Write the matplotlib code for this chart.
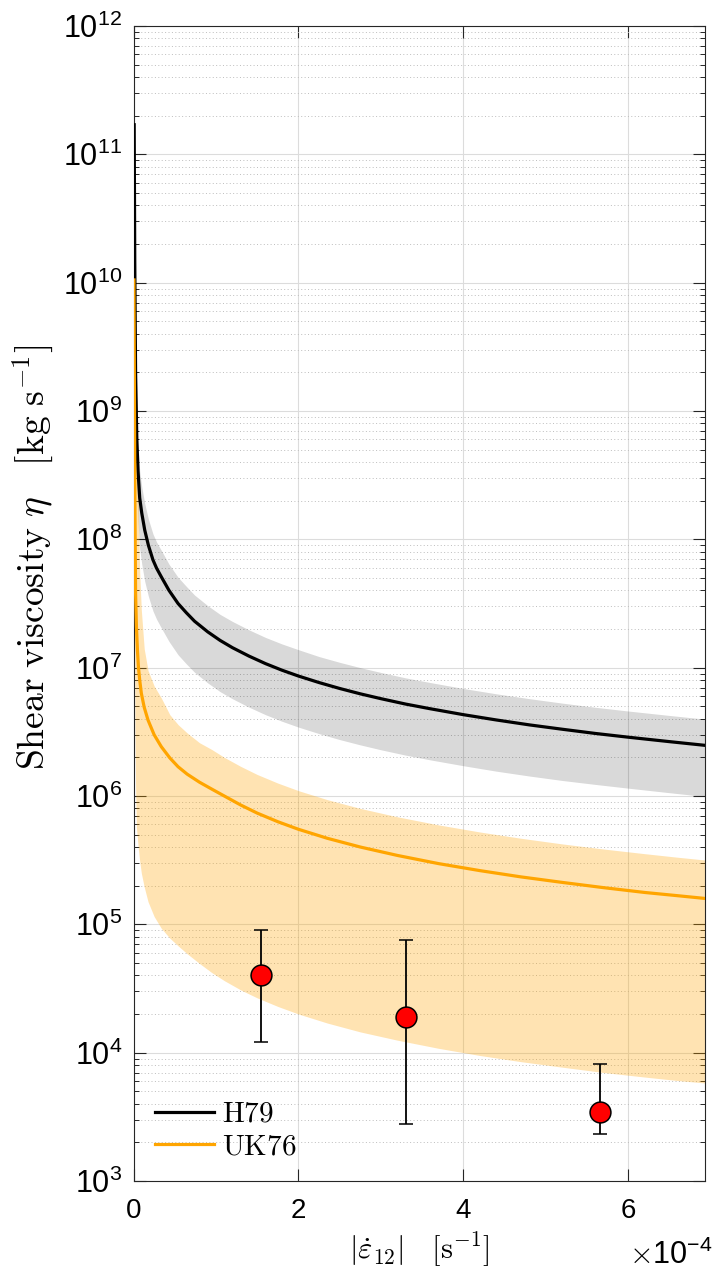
import matplotlib
matplotlib.use('Agg')
import matplotlib.pyplot as plt
from matplotlib.ticker import FixedLocator, NullFormatter

plt.rcParams['font.family'] = ['Liberation Sans', 'DejaVu Sans']
plt.rcParams['mathtext.fontset'] = 'cm'

# ---- data (x in units of 1e-4 s^-1, eta in kg s^-1) ----
x_h79 = [0.008, 0.015, 0.025, 0.04, 0.055, 0.075, 0.1, 0.136, 0.18, 0.236, 0.28, 0.337,
         0.43, 0.54, 0.64, 0.74, 0.9, 1.05, 1.2, 1.4, 1.6, 1.8, 2.0, 2.25, 2.5, 2.75,
         3.0, 3.3, 3.6, 4.0, 4.4, 4.8, 5.2, 5.6, 6.0, 6.5, 6.93]
eta_h79 = [1.7e11, 1.5e10, 2.0e9, 6.0e8, 3.4e8, 2.1e8, 1.6e8, 1.18e8, 9.0e7, 6.9e7, 5.95e7, 5.1e7,
           4.0e7, 3.16e7, 2.68e7, 2.3e7, 1.9e7, 1.63e7, 1.43e7, 1.23e7, 1.075e7, 9.55e6, 8.6e6,
           7.65e6, 6.88e6, 6.25e6, 5.73e6, 5.2e6, 4.78e6, 4.3e6, 3.91e6, 3.58e6, 3.31e6, 3.07e6,
           2.87e6, 2.65e6, 2.48e6]
h79_hi = [1.7e11, 2.4e10, 3.2e9, 9.6e8, 5.4e8, 3.4e8, 2.56e8, 1.9e8, 1.44e8, 1.1e8, 9.5e7, 8.2e7,
          6.4e7, 5.06e7, 4.3e7, 3.68e7, 3.04e7, 2.6e7, 2.29e7, 1.97e7, 1.72e7, 1.53e7, 1.38e7,
          1.22e7, 1.1e7, 1.0e7, 9.17e6, 8.32e6, 7.65e6, 6.88e6, 6.25e6, 5.73e6, 5.29e6, 4.91e6,
          4.59e6, 4.24e6, 3.97e6]
h79_lo = [6.8e10, 6.0e9, 8.0e8, 2.4e8, 1.36e8, 8.4e7, 6.4e7, 4.7e7, 3.6e7, 2.76e7, 2.38e7, 2.04e7,
          1.6e7, 1.26e7, 1.07e7, 9.2e6, 7.6e6, 6.5e6, 5.72e6, 4.92e6, 4.3e6, 3.82e6, 3.44e6,
          3.06e6, 2.75e6, 2.5e6, 2.29e6, 2.08e6, 1.91e6, 1.72e6, 1.56e6, 1.43e6, 1.32e6, 1.23e6,
          1.15e6, 1.06e6, 0.99e6]

x_uk76 = [0.005, 0.012, 0.018, 0.025, 0.035, 0.048, 0.06, 0.075, 0.095, 0.13, 0.176, 0.25,
          0.337, 0.44, 0.54, 0.65, 0.8, 0.95, 1.1, 1.3, 1.5, 1.75, 2.0, 2.35, 2.75, 3.2,
          3.7, 4.2, 4.7, 5.2, 5.7, 6.2, 6.6, 6.93]
eta_uk76 = [1.05e10, 1.0e9, 1.5e8, 3.8e7, 2.1e7, 1.35e7, 1.0e7, 8.0e6, 6.3e6, 4.9e6, 3.9e6, 3.0e6,
            2.42e6, 1.98e6, 1.69e6, 1.48e6, 1.28e6, 1.13e6, 1.0e6, 8.5e5, 7.35e5, 6.3e5, 5.5e5,
            4.68e5, 4.0e5, 3.44e5, 2.97e5, 2.62e5, 2.34e5, 2.12e5, 1.93e5, 1.77e5, 1.67e5, 1.59e5]
uk76_hi = [1.1e10, 1.0e10, 8.0e9, 3.0e9, 2.0e9, 6.0e8, 1.5e8, 5.5e7, 2.8e7, 1.4e7, 9.5e6, 7.2e6,
           5.8e6, 4.3e6, 3.6e6, 3.1e6, 2.6e6, 2.3e6, 2.0e6, 1.7e6, 1.47e6, 1.26e6, 1.1e6,
           9.36e5, 8.0e5, 6.88e5, 5.95e5, 5.24e5, 4.68e5, 4.23e5, 3.86e5, 3.55e5, 3.33e5, 3.17e5]
uk76_lo = [1.0e9, 8.0e7, 3.0e6, 1.2e6, 5.7e5, 4.6e5, 3.8e5, 3.1e5, 2.5e5, 1.95e5, 1.5e5, 1.15e5,
           9.3e4, 7.8e4, 6.8e4, 5.9e4, 4.95e4, 4.2e4, 3.64e4, 3.08e4, 2.67e4, 2.29e4, 2.0e4,
           1.7e4, 1.45e4, 1.25e4, 1.08e4, 9.5e3, 8.5e3, 7.7e3, 7.0e3, 6.45e3, 6.06e3, 5.8e3]

x_obs = [1.54, 3.30, 5.655]
eta_obs = [4.0e4, 1.88e4, 3.45e3]
eta_obs_hi = [9.1e4, 7.5e4, 8.1e3]
eta_obs_lo = [1.2e4, 2.77e3, 2.34e3]

xticks = [0, 2, 4, 6]
xtick_labels = ['0', '2', '4', '6']
yticks = [1e3, 1e4, 1e5, 1e6, 1e7, 1e8, 1e9, 1e10, 1e11, 1e12]
ytick_labels = [r'$\mathregular{10^{%d}}$' % e for e in range(3, 13)]

# ---- figure ----
fig = plt.figure(figsize=(7.14, 12.73), dpi=100)
ax = fig.add_axes([0.187, 0.0723, 0.8004, 0.9073])
ax.set_yscale('log')
ax.set_xlim(0, 6.93)
ax.set_ylim(1e3, 1e12)

ax.fill_between(x_h79, h79_lo, h79_hi, color='black', alpha=0.15, linewidth=0, zorder=1)
ax.fill_between(x_uk76, uk76_lo, uk76_hi, color='orange', alpha=0.3, linewidth=0, zorder=1)
ax.plot(x_h79, eta_h79, color='black', lw=2.3, label=r'$\mathrm{H79}$', zorder=3)
ax.plot(x_uk76, eta_uk76, color='orange', lw=2.3, label=r'$\mathrm{UK76}$', zorder=3)

yerr = [[v - l for v, l in zip(eta_obs, eta_obs_lo)],
        [h - v for v, h in zip(eta_obs, eta_obs_hi)]]
ax.errorbar(x_obs, eta_obs, yerr=yerr, fmt='o', color='black', ecolor='black',
            markerfacecolor='red', markeredgecolor='black', markersize=15,
            markeredgewidth=1.1, elinewidth=1.3, capsize=5, capthick=1.3, zorder=4)

# ticks & grid
ax.xaxis.set_major_locator(FixedLocator(xticks))
ax.set_xticklabels(xtick_labels)
ax.yaxis.set_major_locator(FixedLocator(yticks))
ax.set_yticklabels(ytick_labels)
ax.yaxis.set_minor_formatter(NullFormatter())
ax.tick_params(which='both', direction='in', top=True, right=True, color='#262626')
ax.tick_params(which='major', length=8.5, width=0.8)
ax.tick_params(which='minor', length=3.6, width=0.7)
ax.tick_params(axis='x', which='major', pad=12, labelsize=20)
ax.tick_params(axis='y', which='major', pad=8, labelsize=22)
ax.tick_params(axis='x', which='minor', top=False, bottom=False)
ax.grid(True, which='major', color='#dcdcdc', lw=0.8, ls='-')
ax.grid(True, which='minor', axis='y', color='#bdbdbd', lw=0.7, ls=(0, (1, 2.5)))
ax.set_axisbelow(True)
for s in ax.spines.values():
    s.set_color('#262626')
    s.set_linewidth(0.8)

ax.set_ylabel(r'$\mathrm{Shear\ viscosity}\ \eta\ \ \ [\mathrm{kg\ s^{-1}}]$', fontsize=27)
ax.yaxis.set_label_coords(-0.135, 0.54)
ax.set_xlabel(r'$|\dot{\varepsilon}_{12}|\quad[\mathrm{s^{-1}}]$', fontsize=22)
ax.xaxis.set_label_coords(0.5, -0.043)

fig.text(0.998, 1 - 1264 / 1273, r'$\times\mathregular{10^{-4}}$', ha='right', va='baseline', fontsize=22)

leg = ax.legend(loc='lower left', bbox_to_anchor=(0.038, 0.018), frameon=False, fontsize=21,
                handlelength=2.0, handletextpad=0.3, labelspacing=0.15, borderpad=0, borderaxespad=0)

fig.savefig('out.png', dpi=100)
